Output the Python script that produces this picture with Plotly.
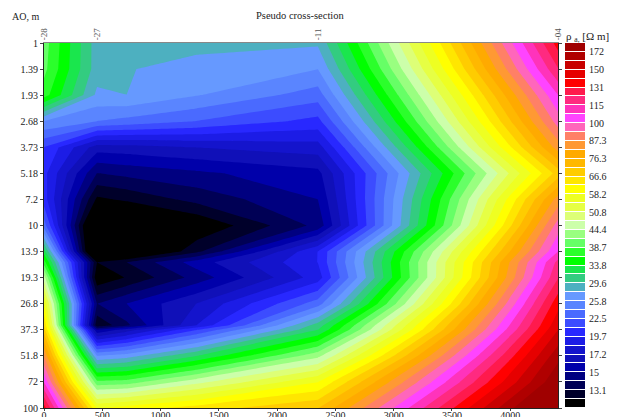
import numpy as np
import plotly.graph_objects as go

ao_values = [1, 1.39, 1.93, 2.68, 3.73, 5.18, 7.2, 10, 13.9, 19.3, 26.8, 37.3, 51.8, 72, 100]
ao_labels = ["1", "1.39", "1.93", "2.68", "3.73", "5.18", "7.2", "10", "13.9", "19.3", "26.8", "37.3", "51.8", "72", "100"]
ao_grid = [1, 1.39, 1.93, 2.68, 3.73, 5.18, 7.2, 10, 13.9, 15.9, 19.3, 26.8, 35.2, 37.3, 51.8, 72, 100]
station_x = [0, 455, 2350, 4410]
station_labels = ["-28", "-27", "-11", "-04"]
grid_x = [0, 455, 710, 1310, 2350, 4410]

rho_col_0 = [40.0, 39.5, 37.4, 25.8, 21.0, 20.1, 20.3, 23.3, 32.7, 37.4, 45.8, 58.0, 66.5, 68.7, 87.1, 106.7, 135.2]
rho_col_1 = [28.5, 28.5, 27.2, 24.1, 16.6, 14.0, 12.06, 9.66, 9.34, 12.24, 11.52, 14.0, 12.4, 15.0, 25.8, 39.5, 58.0]
rho_col_2 = [28.4, 27.7, 27.6, 23.6, 16.7, 14.3, 12.4, 10.2, 10.26, 13.1, 12.3, 15.0, 13.8, 16.6, 26.7, 40.0, 60.0]
rho_col_3 = [28.1, 27.0, 25.9, 22.5, 17.2, 14.8, 13.4, 11.44, 12.9, 15.5, 14.4, 17.2, 18.4, 21.0, 31.6, 46.4, 64.2]
rho_col_4 = [27.9, 25.8, 23.3, 20.6, 17.8, 15.7, 15.0, 14.3, 19.7, 19.7, 19.0, 23.3, 30.5, 31.6, 43.4, 58.0, 71.1]
rho_col_5 = [135, 122, 107, 96.4, 84.2, 68.7, 84.2, 96.4, 107, 117, 122, 137, 147, 150, 168, 183, 210]

level_low = 11.44
level_high = 184
band_colors = [
    "#000000", "#00002a", "#000055", "#000080", "#0000aa", "#1010b8", "#1414cc", "#1c1ce6",
    "#2828ff", "#3c4cff", "#4a6aff", "#5a85ff", "#6699ff", "#4db0c0", "#33cc80", "#1ae64d",
    "#00ff00", "#2bff2b", "#66ff66", "#99ff80", "#ccffaa", "#ddff77", "#e6ff44", "#eeff22",
    "#ffff00", "#ffe600", "#ffcc00", "#ffb800", "#ffaa00", "#ff9933", "#ff8066", "#ff66bb",
    "#ff44ff", "#ff33bb", "#ff2a80", "#ff1a4d", "#ff0000", "#e60000", "#c80000", "#b00000", "#a00000",
]
legend_ticks = [2, 4, 6, 8, 10, 12, 14, 16, 18, 20, 22, 24, 26, 28, 30, 32, 34, 36, 38, 40]
legend_labels = ["13.1", "15", "17.2", "19.7", "22.5", "25.8", "29.6", "33.8", "38.7", "44.4",
                 "50.8", "58.2", "66.6", "76.3", "87.3", "100", "115", "131", "150", "172"]

n = len(band_colors)
scale = []
for i, c in enumerate(band_colors):
    scale += [[i / n, c], [(i + 1) / n, c]]

z = np.log10(np.array([rho_col_0, rho_col_1, rho_col_2, rho_col_3, rho_col_4, rho_col_5]).T)
lo, hi = np.log10(level_low), np.log10(level_high)
FONT = "Liberation Serif"
TC = "#222222"

fig = go.Figure()
fig.add_trace(go.Contour(
    x=grid_x, y=ao_grid, z=z, colorscale=scale, zmin=lo, zmax=hi, showscale=False,
    autocontour=False, contours=dict(start=lo, end=hi, size=(hi - lo) / n, coloring="fill", showlines=False),
    line=dict(width=0, smoothing=0), hoverinfo="skip",
))
fig.add_trace(go.Heatmap(
    x=[0], y=[i + 0.5 for i in range(n)], z=[[i] for i in range(n)], colorscale=scale,
    zmin=-0.5, zmax=n - 0.5, showscale=False, ygap=1, xaxis="x2", yaxis="y2", hoverinfo="skip",
))
fig.add_trace(go.Scatter(x=station_x, y=[1] * 4, mode="markers", marker=dict(opacity=0),
                         xaxis="x3", yaxis="y", showlegend=False, hoverinfo="skip"))

W, H = 627, 417
fig.update_layout(
    width=W, height=H, autosize=False, paper_bgcolor="white", plot_bgcolor="white",
    margin=dict(l=0, r=0, t=0, b=0, autoexpand=False), showlegend=False,
    font=dict(family=FONT, size=10, color=TC),
    xaxis=dict(domain=[44 / W, 558 / W], range=[0, 4410], tickvals=[0, 500, 1000, 1500, 2000, 2500, 3000, 3500, 4000],
               ticktext=["0", "500", "1000", "1500", "2000", "2500", "3000", "3500", "4000"], automargin=False,
               ticks="outside", ticklen=2, ticklabelstandoff=-4, showline=True, linecolor="#222222", linewidth=1,
               showgrid=False, zeroline=False, tickfont=dict(size=10, family=FONT, color=TC)),
    yaxis=dict(domain=[(H - 408) / H, (H - 43) / H], type="log", range=[2, 0], tickvals=ao_values, ticktext=ao_labels,
               automargin=False,
               ticks="outside", ticklen=3, showline=True, linecolor="#222222", linewidth=1, mirror="ticks", showgrid=False,
               tickfont=dict(size=10, family=FONT, color=TC)),
    xaxis2=dict(domain=[565 / W, 585 / W], range=[-0.5, 0.5], visible=False, anchor="y2", automargin=False),
    yaxis2=dict(domain=[(H - 408) / H, (H - 43) / H], range=[0, n], anchor="x2", side="right", automargin=False,
                tickvals=legend_ticks, ticktext=legend_labels, ticks="", ticklabelstandoff=3, showline=False,
                showgrid=False, zeroline=False, tickfont=dict(size=10, family=FONT, color=TC)),
    xaxis3=dict(domain=[44 / W, 558 / W], range=[0, 4410], overlaying="x", side="top", anchor="y", automargin=False,
                tickvals=station_x, ticktext=station_labels, tickangle=-90, ticks="", showline=True,
                linecolor="#888888", linewidth=1, showgrid=False, zeroline=False,
                tickfont=dict(size=9, family=FONT, color="#555555")),
    annotations=[
        dict(text="Pseudo cross-section", x=300 / W, y=1 - 16 / H, xref="paper", yref="paper", showarrow=False,
             xanchor="center", yanchor="middle", font=dict(size=10.5, family=FONT, color=TC)),
        dict(text="AO, m", x=25.5 / W, y=1 - 17 / H, xref="paper", yref="paper", showarrow=False,
             xanchor="center", yanchor="middle", font=dict(size=10, family=FONT, color=TC)),
        dict(text="ρ <sub>a,</sub> [Ω m]", x=564 / W, y=1 - 37 / H, xref="paper", yref="paper", xanchor="left",
             yanchor="middle", showarrow=False, font=dict(size=11, family=FONT, color=TC)),
    ],
)
fig.write_html("out.html", post_script="document.body.style.margin='0';", config={"displayModeBar": False})
